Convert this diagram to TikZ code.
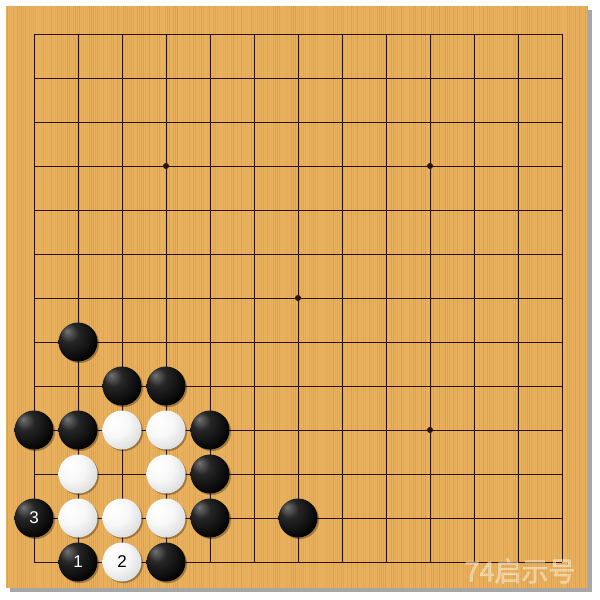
\documentclass[tikz,border=0pt]{standalone}
\usepackage{fontspec}
\setsansfont{Liberation Sans}
\newfontfamily\cjkfont[FakeBold=2]{Noto Sans CJK SC}
\usetikzlibrary{shadows}
\definecolor{board}{HTML}{E9B15E}
\definecolor{woodline}{HTML}{C98E3E}
\definecolor{gridcol}{HTML}{2A1208}
\pgfdeclareradialshading{blackstone}{\pgfpoint{-14bp}{14bp}}{color(0bp)=(black!55); color(12bp)=(black!85); color(35bp)=(black); color(70bp)=(black)}
\pgfdeclareradialshading{whitestone}{\pgfpoint{-12bp}{12bp}}{color(0bp)=(white); color(18bp)=(white!97!black); color(36bp)=(white!85!black); color(50bp)=(white!70!black); color(70bp)=(white!55!black)}
\tikzset{
  stonebase/.style={circle, minimum size=39pt, inner sep=0pt,
    general shadow={fill=black, opacity=0.3, shadow xshift=1.6pt, shadow yshift=-1.6pt},
    font=\sffamily\fontsize{17}{17}\selectfont},
  bstone/.style={stonebase, shading=blackstone, text=white},
  wstone/.style={stonebase, shading=whitestone, text=black},
  gridline/.style={draw=gridcol, line width=0.9pt},
}
\begin{document}
\begin{tikzpicture}[x=1pt,y=-1pt]
\useasboundingbox (0,0) rectangle (600,600);
\fill[white] (0,0) rectangle (600,600);
\fill[gray!70] (10,10) rectangle (592,592);
\fill[board] (6,6) rectangle (588,588);
\pgfmathsetseed{7}
\foreach \i in {0,...,290}{
  \pgfmathsetmacro\op{rnd*0.5}
  \draw[draw=woodline, opacity=\op, line width=0.9pt] ({7+2*\i},6) -- ({7+2*\i},588);
}
\foreach \k in {0,...,12}{
  \draw[gridline] ({34+44*\k},34) -- ({34+44*\k},562);
  \draw[gridline] (34,{34+44*\k}) -- (562,{34+44*\k});
}
\foreach \p in {(166,166),(430,166),(298,298),(430,430)}
  \fill[gridcol] \p circle (3);
% black stones
\node[bstone] (b1) at (78,342) {};
\node[bstone] (b2) at (122,386) {};
\node[bstone] (b3) at (166,386) {};
\node[bstone] (b4) at (34,430) {};
\node[bstone] (b5) at (78,430) {};
\node[bstone] (b6) at (210,430) {};
\node[bstone] (b7) at (210,474) {};
\node[bstone] (b8) at (210,518) {};
\node[bstone] (b9) at (298,518) {};
\node[bstone] (b10) at (34,518) {3};
\node[bstone] (b11) at (78,562) {1};
\node[bstone] (b12) at (166,562) {};
% white stones
\node[wstone] (w1) at (122,430) {};
\node[wstone] (w2) at (166,430) {};
\node[wstone] (w3) at (78,474) {};
\node[wstone] (w4) at (166,474) {};
\node[wstone] (w5) at (78,518) {};
\node[wstone] (w6) at (122,518) {};
\node[wstone] (w7) at (166,518) {};
\node[wstone] (w8) at (122,562) {2};
% watermark
\node[font=\cjkfont\fontsize{27}{27}\selectfont, text=white, opacity=0.4] (wm) at (520,571) {74启示号};
\end{tikzpicture}
\end{document}
